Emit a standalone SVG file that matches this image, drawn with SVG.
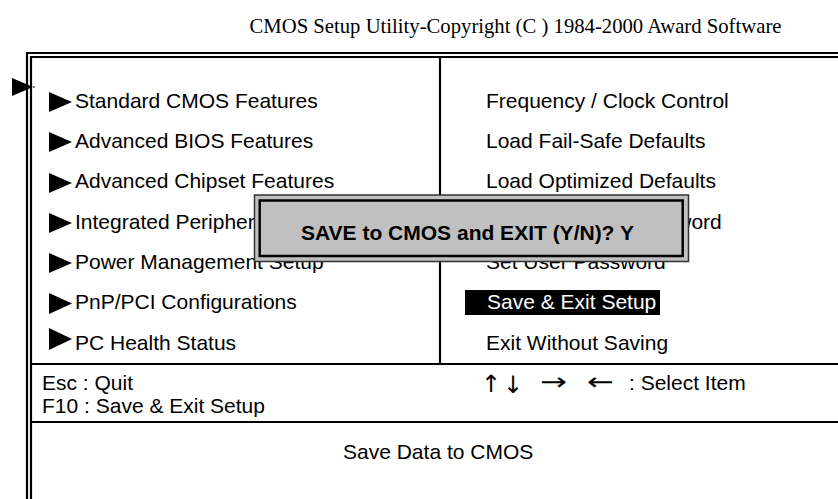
<svg xmlns="http://www.w3.org/2000/svg" width="838" height="499" viewBox="0 0 838 499">
<style>
.t{font-family:"Liberation Sans",Arial,sans-serif;font-size:21px;fill:#000}
.ttl{font-family:"Liberation Serif","Times New Roman",serif;font-size:20.7px;fill:#000}
.b{font-family:"Liberation Sans",Arial,sans-serif;font-size:21px;font-weight:bold;fill:#000}
.w{fill:#fff}
.ln{stroke:#000;stroke-width:2.2;fill:none}
.tri{fill:#000}
.ar{font-family:"DejaVu Sans",sans-serif;font-size:24px;fill:#000}
</style>
<rect width="838" height="499" fill="#fff"/>
<text id="title" class="ttl" x="515.5" y="33" text-anchor="middle">CMOS Setup Utility-Copyright (C ) 1984-2000 Award Software</text>
<g id="frame">
<path class="ln" d="M27,499 V53 H838"/>
<path class="ln" d="M31,499 V57 H838"/>
<path class="ln" d="M440,57 V364"/>
<path class="ln" d="M31,364 H838"/>
<path class="ln" d="M31,422 H838"/>
</g>
<g id="cursor"><polygon class="tri" points="12,78 33,87 12,96"/><path d="M33,87 H35" stroke="#000" stroke-width="1"/></g>
<g id="left-menu">
<g id="item-standard"><polygon class="tri" points="49,92 72,102 49,112"/><text class="t" x="75" y="107.5">Standard CMOS Features</text></g>
<g id="item-bios"><polygon class="tri" points="49,132 72,142 49,152"/><text class="t" x="75" y="148">Advanced BIOS Features</text></g>
<g id="item-chipset"><polygon class="tri" points="49,173 72,183 49,193"/><text class="t" x="75" y="188.3">Advanced Chipset Features</text></g>
<g id="item-integrated"><polygon class="tri" points="49,213 72,223 49,233"/><text class="t" x="75" y="228.5">Integrated Peripherals</text></g>
<g id="item-power"><polygon class="tri" points="49,253 72,263 49,273"/><text class="t" x="75" y="269">Power Management Setup</text></g>
<g id="item-pnp"><polygon class="tri" points="49,293 72,303.5 49,314"/><text class="t" x="75" y="309.3">PnP/PCI Configurations</text></g>
<g id="item-health"><polygon class="tri" points="49,328 72,339 49,350"/><text class="t" x="75" y="349.5">PC Health Status</text></g>
</g>
<g id="right-menu">
<g id="item-frequency"><text class="t" x="486" y="107.5">Frequency / Clock Control</text></g>
<g id="item-failsafe"><text class="t" x="486" y="148">Load Fail-Safe Defaults</text></g>
<g id="item-optimized"><text class="t" x="486" y="188.3">Load Optimized Defaults</text></g>
<g id="item-supervisor"><text class="t" x="486" y="228.5">Set Supervisor Password</text></g>
<g id="item-user"><text class="t" x="486" y="269">Set User Password</text></g>
<g id="item-save"><rect x="465" y="290" width="195" height="25" fill="#000"/><text class="t w" x="487" y="309.3">Save &amp; Exit Setup</text></g>
<g id="item-exit"><text class="t" x="486" y="349.5">Exit Without Saving</text></g>
</g>
<g id="popup">
<rect x="254.5" y="195" width="434" height="66.5" fill="#c0c0c0" stroke="#333" stroke-width="1.5"/>
<rect x="259.7" y="200.5" width="423" height="55.5" fill="none" stroke="#000" stroke-width="2.5"/>
<text class="b" x="301" y="240">SAVE to CMOS and EXIT (Y/N)? Y</text>
</g>
<g id="help">
<text class="t" x="42" y="390">Esc : Quit</text>
<text class="t" x="42" y="413">F10 : Save &amp; Exit Setup</text>
<text class="ar" x="481" y="392">↑</text>
<text class="ar" x="503" y="393">↓</text>
<text class="ar" x="540" y="389.5" textLength="27" lengthAdjust="spacingAndGlyphs">→</text>
<text class="ar" x="587" y="389.5" textLength="27" lengthAdjust="spacingAndGlyphs">←</text>
<text class="t" x="629" y="390">: Select Item</text>
</g>
<g id="status"><text class="t" x="343" y="459">Save Data to CMOS</text></g>
</svg>
